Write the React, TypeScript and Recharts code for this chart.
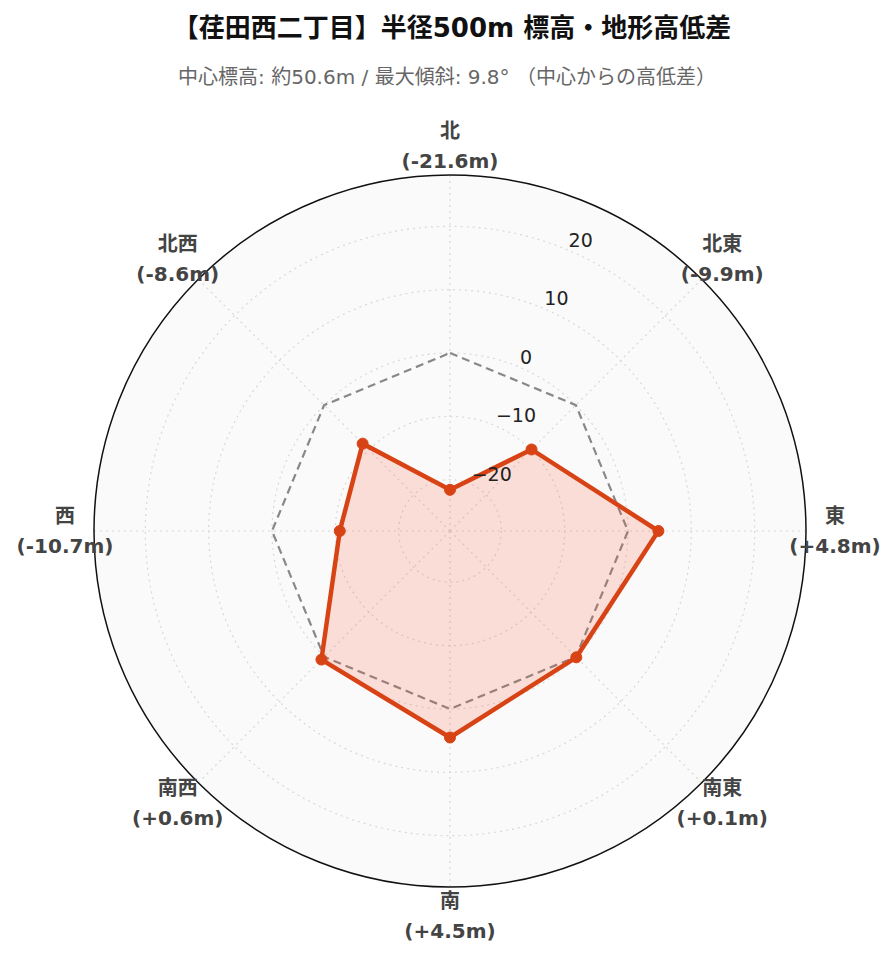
import { RadarChart, Radar, PolarGrid, PolarAngleAxis, PolarRadiusAxis } from 'recharts'

// 8方位の高低差 (中心からの差, m)
const directions = ['北', '北東', '東', '南東', '南', '南西', '西', '北西']
const elevDiff = [-21.6, -9.9, 4.8, 0.1, 4.5, 0.6, -10.7, -8.6]
const zeroLine = [0, 0, 0, 0, 0, 0, 0, 0]
const radialTicks = [-20, -10, 0, 10, 20]
const radialDomain = [-28.1, 28.1]

const titleText = '【荏田西二丁目】半径500m 標高・地形高低差'
const subtitleText = '中心標高: 約50.6m / 最大傾斜: 9.8° （中心からの高低差）'

const W = 896
const H = 962
const CX = 450
const CY = 531
const R = 356
const FONT = "'DejaVu Sans', 'Noto Sans CJK JP', sans-serif"
const RED = '#d84315'

const chartData = directions.map((d, i) => ({ dir: d, diff: elevDiff[i], zero: zeroLine[i] }))

function fmtDiff(v: number) {
  return `(${v >= 0 ? '+' : '-'}${Math.abs(v).toFixed(1)}m)`
}

function AngleTick(props: any) {
  const { payload } = props
  const cx = props.cx ?? CX
  const cy = props.cy ?? CY
  const idx = directions.indexOf(payload.value)
  const a = (payload.coordinate * Math.PI) / 180
  const x = cx + (R + 29) * Math.cos(a)
  const y = cy - (R + 29) * Math.sin(a)
  return (
    <text x={x} y={y} textAnchor="middle" fontFamily={FONT} fontWeight="bold" fontSize={20} fill="#444">
      <tspan x={x} y={y - 8}>{payload.value}</tspan>
      <tspan x={x} y={y + 22}>{fmtDiff(elevDiff[idx])}</tspan>
    </text>
  )
}

function RadiusTick(props: any) {
  const { x, y, payload } = props
  const v = payload.value
  const label = v < 0 ? `−${Math.abs(v)}` : `${v}`
  return (
    <text x={x + 2} y={y - 3} textAnchor="start" fontFamily={FONT} fontSize={19} fill="#222">
      {label}
    </text>
  )
}

export default function App() {
  return (
    <div style={{ position: 'relative', width: W, height: H, margin: -8, background: '#fff', fontFamily: FONT }}>
      <div
        style={{
          position: 'absolute', left: 0, top: 12, width: 904, textAlign: 'center',
          fontSize: 26, fontWeight: 'bold', lineHeight: '32px', color: '#111',
        }}
      >
        {titleText}
      </div>
      <div
        style={{
          position: 'absolute', left: 0, top: 63, width: 894, textAlign: 'center',
          fontSize: 20, lineHeight: '28px', color: '#666',
        }}
      >
        {subtitleText}
      </div>
      {/* 背景の円 */}
      <div
        style={{
          position: 'absolute', left: CX - R, top: CY - R, width: R * 2, height: R * 2,
          borderRadius: '50%', background: '#fafafa',
        }}
      />
      <div style={{ position: 'absolute', left: 0, top: 0 }}>
        <RadarChart width={W} height={H} data={chartData} cx={CX} cy={CY} outerRadius={R} margin={{ top: 0, right: 0, bottom: 0, left: 0 }}>
          <PolarGrid gridType="circle" stroke="#d8d8d8" strokeDasharray="2 4" strokeWidth={1.2} />
          <PolarAngleAxis
            dataKey="dir"
            tick={<AngleTick />}
            tickLine={false}
            axisLine={{ stroke: '#111', strokeWidth: 1.5 }}
            axisLineType="circle"
          />
          <Radar
            dataKey="zero"
            stroke="#888"
            strokeWidth={2.2}
            strokeDasharray="8 5"
            fill="none"
            fillOpacity={0}
            dot={false}
            isAnimationActive={false}
          />
          <Radar
            dataKey="diff"
            stroke={RED}
            strokeWidth={4.5}
            fill="#ff5a36"
            fillOpacity={0.18}
            dot={{ r: 5.5, fill: RED, stroke: RED, strokeWidth: 1, fillOpacity: 1 }}
            isAnimationActive={false}
          />
          <PolarRadiusAxis
            angle={67.5}
            domain={radialDomain}
            ticks={radialTicks}
            tick={<RadiusTick />}
            axisLine={false}
            tickLine={false}
            allowDataOverflow
          />
        </RadarChart>
      </div>
    </div>
  )
}
